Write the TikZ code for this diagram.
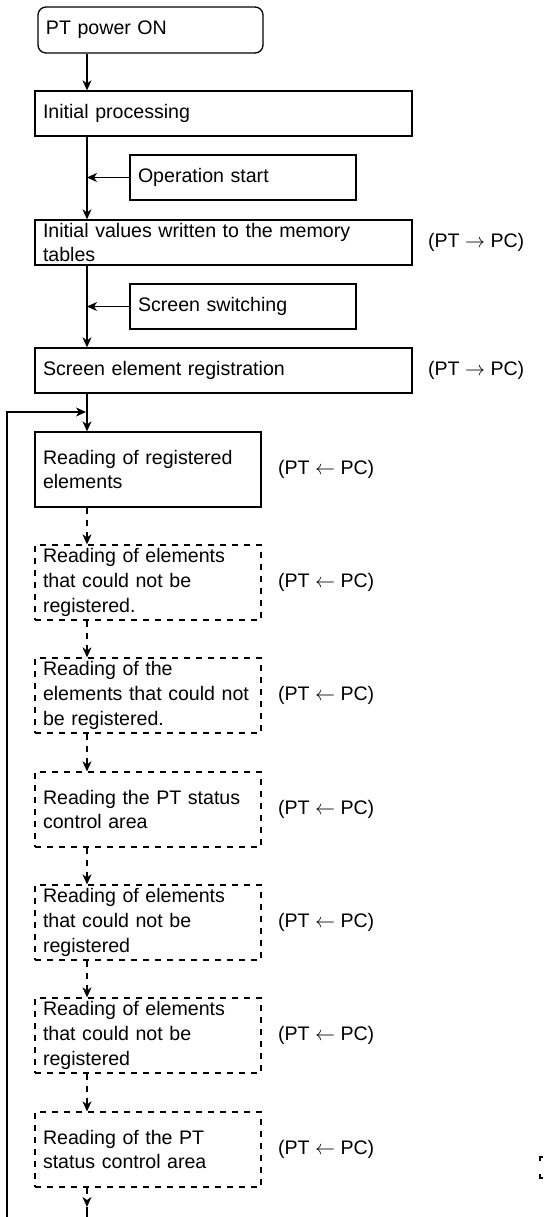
\documentclass[tikz,border=0pt]{standalone}
\usepackage{fontspec}
\setmainfont{Liberation Sans}
\usetikzlibrary{arrows.meta, positioning, calc}

\begin{document}
\begin{tikzpicture}[
  x=0.5pt, y=-0.5pt,
  every node/.style={font=\fontsize{9.8}{12.3}\selectfont},
  stepbox/.style={
    rectangle, draw=black, line width=0.65pt,
    minimum height=22.5pt, inner xsep=4pt, inner ysep=0pt,
    align=left, anchor=center
  },
  widebox/.style={stepbox, minimum width=188.5pt, text width=180.5pt},
  sidebox/.style={stepbox, minimum width=113pt, text width=105pt},
  readbox/.style={stepbox, minimum width=113pt, text width=105pt, minimum height=37.5pt},
  optbox/.style={readbox, dash pattern=on 3pt off 3pt},
  startbox/.style={stepbox, rounded corners=4pt, minimum width=112.5pt, text width=104.5pt, minimum height=23pt},
  dirlabel/.style={inner sep=0pt, anchor=west},
  flow/.style={-{Stealth[length=5pt, width=4.5pt, inset=1.5pt]}, line width=0.65pt},
  optflow/.style={flow, dash pattern=on 3pt off 3pt},
]
\useasboundingbox (0,0) rectangle (551,1217);

%% Main column
\coordinate (spine) at (87,0);

\node[startbox] (pwr)     at (150.5,30)   {PT power ON};
\node[widebox]  (init)    at (223.5,113.5) {Initial processing};
\node[sidebox]  (opstart) at (243,177.5)  {Operation start};
\node[widebox]  (initval) at (223.5,242.5) {Initial values written to the memory\\tables};
\node[sidebox]  (scrsw)   at (243,306.5)  {Screen switching};
\node[widebox]  (scrreg)  at (223.5,370.5) {Screen element registration};

%% Reading cycle
\node[readbox] (rdreg) at (148,469.5)  {Reading of registered\\elements};
\node[optbox]  (rdnr1) at (148,582.5)  {Reading of elements\\that could not be\\registered.};
\node[optbox]  (rdnr2) at (148,695.5)  {Reading of the\\elements that could not\\be registered.};
\node[optbox]  (rdst1) at (148,809.5)  {Reading the PT status\\control area};
\node[optbox]  (rdnr3) at (148,922.5)  {Reading of elements\\that could not be\\registered};
\node[optbox]  (rdnr4) at (148,1035.5) {Reading of elements\\that could not be\\registered};
\node[optbox]  (rdst2) at (148,1149.5) {Reading of the PT\\status control area};

%% Direction labels
\node[dirlabel, right=7.5pt of initval] (dir1) {(PT $\rightarrow$ PC)};
\node[dirlabel, right=7.5pt of scrreg]  (dir2) {(PT $\rightarrow$ PC)};
\foreach \n in {rdreg, rdnr1, rdnr2, rdst1, rdnr3, rdnr4, rdst2} {
  \node[dirlabel, right=8pt of \n] (dir-\n) {(PT $\leftarrow$ PC)};
}

%% Solid flow
\draw[flow] (pwr.south -| spine)     -- (init.north -| spine);
\draw[flow] (init.south -| spine)    -- (initval.north -| spine);
\draw[flow] (initval.south -| spine) -- (scrreg.north -| spine);
\draw[flow] (scrreg.south -| spine)  -- (rdreg.north -| spine);
\draw[flow] (opstart.west) -- (opstart.west -| spine);
\draw[flow] (scrsw.west)   -- (scrsw.west -| spine);

%% Dashed flow
\draw[optflow] (rdreg.south -| spine) -- (rdnr1.north -| spine);
\draw[optflow] (rdnr1.south -| spine) -- (rdnr2.north -| spine);
\draw[optflow] (rdnr2.south -| spine) -- (rdst1.north -| spine);
\draw[optflow] (rdst1.south -| spine) -- (rdnr3.north -| spine);
\draw[optflow] (rdnr3.south -| spine) -- (rdnr4.north -| spine);
\draw[optflow] (rdnr4.south -| spine) -- (rdst2.north -| spine);
\coordinate (tail) at (87,1207);
\coordinate (tailend) at (87,1217);
\draw[optflow] (rdst2.south -| spine) -- (tail);
\draw[line width=0.65pt] (tail) -- (tailend);

%% Loop back
\coordinate (loopbot) at (7,1217);
\coordinate (loopin)  at (86,412);
\draw[flow] (loopbot) |- (loopin);

%% Fragment at right edge
\draw[line width=0.65pt] (543,1157) -- (540,1157) -- (540,1161);
\draw[line width=0.65pt] (540,1174) -- (540,1178) -- (543,1178);

\end{tikzpicture}
\end{document}
